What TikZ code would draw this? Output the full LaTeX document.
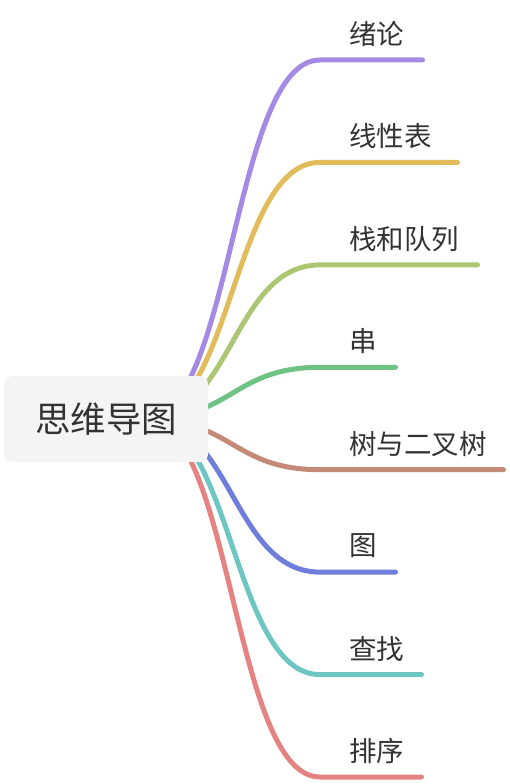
\documentclass[tikz,border=0pt]{standalone}
\usepackage{fontspec}
\newfontfamily\cjk{Noto Sans CJK SC}
\definecolor{textgray}{HTML}{333333}
\definecolor{rootfill}{HTML}{F4F4F4}
\definecolor{lnpurple}{HTML}{A38BE3}
\definecolor{lnorange}{HTML}{E2BB5B}
\definecolor{lnolive}{HTML}{ADC673}
\definecolor{lngreen}{HTML}{6DC284}
\definecolor{lnbrown}{HTML}{C48A78}
\definecolor{lnblue}{HTML}{6F7DDB}
\definecolor{lnteal}{HTML}{6DC6C1}
\definecolor{lnred}{HTML}{E58383}
\tikzset{
  branch/.style={line width=5pt, line cap=round},
  rootbox/.style={fill=rootfill, rounded corners=8pt, minimum width=204pt,
    minimum height=86pt, inner sep=0pt, font=\cjk\fontsize{35.5}{40}\selectfont,
    text=textgray},
  leaf/.style={anchor=west, inner sep=0pt, font=\cjk\fontsize{27.5}{30}\selectfont,
    text=textgray}
}
\begin{document}
\begin{tikzpicture}[x=1pt,y=1pt]
  \useasboundingbox (0,0) rectangle (510,-784);
  \coordinate (hub) at (145,-419);
  % branches: y / end x / colour / label
  \foreach \i/\y/\xe/\c/\t in {1/60/422.5/lnpurple/绪论,
      2/162.4/457.5/lnorange/线性表,
      3/264.9/477.5/lnolive/栈和队列,
      4/367.3/395.5/lngreen/串,
      5/469.7/503.5/lnbrown/树与二叉树,
      6/572.1/395.5/lnblue/图,
      7/674.6/421.5/lnteal/查找,
      8/777/421.5/lnred/排序}{
    \coordinate (k\i) at (320,-\y);
    \coordinate (e\i) at (\xe,-\y);
    \draw[branch, \c] (hub) .. controls (232.5,-419) and (232.5,-\y) .. (k\i) -- (e\i);
    \node[leaf] (t\i) at (349,-\y+26) {\t};
  }
  \node[rootbox] (root) at (106,-419) {思维导图};
\end{tikzpicture}
\end{document}
